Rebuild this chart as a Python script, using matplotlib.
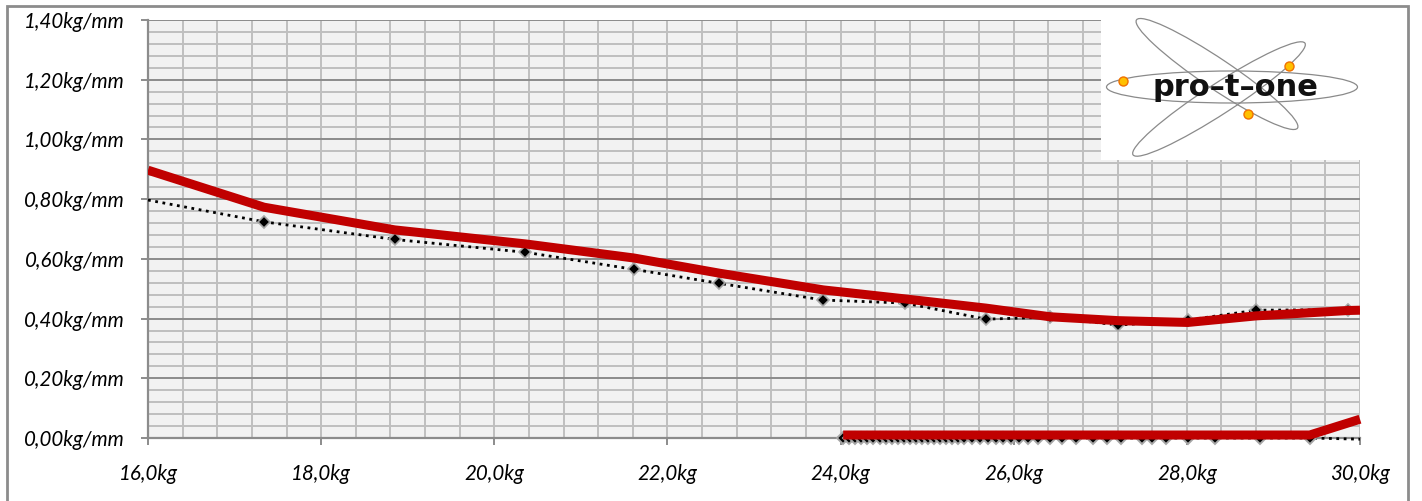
import numpy as np
import matplotlib.pyplot as plt
from matplotlib.patches import Ellipse, Rectangle

# ---- data ----
# measured points (black diamonds, dotted line)
meas_x = [16.0, 17.34, 18.85, 20.36, 21.61, 22.60, 23.80, 24.74, 25.68,
          26.42, 27.21, 28.01, 28.80, 29.86, 30.0]
meas_y = [0.797, 0.724, 0.665, 0.622, 0.565, 0.518, 0.462, 0.452, 0.398,
          0.405, 0.378, 0.395, 0.428, 0.430, 0.428]

# smoothed curve (thick red)
fit_x = [16.0, 17.34, 18.85, 20.36, 21.61, 22.60, 23.80, 24.74, 25.68,
         26.42, 27.21, 28.01, 28.80, 29.86, 30.0]
fit_y = [0.897, 0.773, 0.697, 0.650, 0.603, 0.552, 0.496, 0.466, 0.435,
         0.406, 0.393, 0.387, 0.409, 0.427, 0.428]

# second run near zero
low_x = [24.03, 24.10, 24.17, 24.24, 24.31, 24.38, 24.45, 24.52, 24.59,
         24.66, 24.73, 24.80, 24.87, 24.94, 25.01, 25.08, 25.15, 25.22,
         25.29, 25.36, 25.43, 25.52, 25.61, 25.70, 25.80, 25.88, 25.97,
         26.06, 26.16, 26.28, 26.42, 26.56, 26.72, 26.92, 27.08, 27.24,
         27.48, 27.60, 27.76, 28.01, 28.33, 28.85, 29.42, 30.0]
low_y = [0.0] * 43 + [-0.004]

low_fit_x = [24.03, 29.42, 30.0]
low_fit_y = [0.01, 0.01, 0.063]

y_ticks = [0.0, 0.2, 0.4, 0.6, 0.8, 1.0, 1.2, 1.4]
y_labels = ['0,00kg/mm', '0,20kg/mm', '0,40kg/mm', '0,60kg/mm',
            '0,80kg/mm', '1,00kg/mm', '1,20kg/mm', '1,40kg/mm']
x_ticks = [16, 18, 20, 22, 24, 26, 28, 30]
x_labels = ['16,0kg', '18,0kg', '20,0kg', '22,0kg', '24,0kg', '26,0kg',
            '28,0kg', '30,0kg']

plt.rcParams['font.family'] = ['Lato', 'DejaVu Sans']

fig = plt.figure(figsize=(14.22, 5.01), dpi=100)
W, H = 1422, 501
ax = fig.add_axes([148 / W, 1 - 438 / H, (1360 - 148) / W, (438 - 20) / H])
ax.set_facecolor('#f2f2f2')

ax.set_xlim(16, 30)
ax.set_ylim(0, 1.4)

# grid
ax.set_xticks(np.arange(16, 30.01, 0.4), minor=True)
ax.set_yticks(np.arange(0, 1.401, 0.04), minor=True)
ax.grid(which='minor', color='#bfbfbf', lw=1.4)
ax.grid(which='major', axis='x', color='#bfbfbf', lw=1.4)
ax.grid(which='major', axis='y', color='#8c8c8c', lw=1.4)
ax.set_axisbelow(True)
ax.tick_params(which='minor', length=0)

ax.set_xticks(x_ticks)
ax.set_yticks(y_ticks)
ax.set_xticklabels(x_labels)
ax.set_yticklabels(y_labels)
for t in ax.get_xticklabels() + ax.get_yticklabels():
    t.set_fontstyle('italic')
    t.set_fontsize(14.8)
ax.tick_params(axis='y', which='major', length=5, width=1.4,
               color='#8c8c8c', pad=12)
ax.tick_params(axis='x', which='major', length=5, width=1.4,
               color='#8c8c8c', pad=14)
for s in ['top', 'right']:
    ax.spines[s].set_visible(False)
for s in ['left', 'bottom']:
    ax.spines[s].set_color('#8c8c8c')
    ax.spines[s].set_linewidth(1.6)

# series
ax.plot(meas_x, meas_y, color='black', lw=2.0, ls=':', zorder=3)
ax.plot(meas_x, meas_y, ls='none', marker='D', ms=6, mfc='black',
        mec='#a6a6a6', mew=1.2, markevery=list(range(1, 14)), zorder=4)
ax.plot(low_x, low_y, color='black', lw=2.0, ls=':', zorder=3,
        clip_on=False)
ax.plot(low_x[:-1], low_y[:-1], ls='none', marker='D', ms=6.5, mfc='black',
        mec='#a6a6a6', mew=1.4, zorder=4, clip_on=False)
ax.plot(fit_x, fit_y, color='#c00000', lw=6.5, zorder=5,
        solid_capstyle='butt')
ax.plot(low_fit_x, low_fit_y, color='#c00000', lw=6.5, zorder=5,
        solid_capstyle='butt', clip_on=False)

# logo box
lg = fig.add_axes([1101 / W, 1 - 160 / H, (1362 - 1101) / W, (160 - 17) / H])
lg.set_xlim(1101, 1362)
lg.set_ylim(160, 17)
lg.set_facecolor('white')
for s in lg.spines.values():
    s.set_visible(False)
lg.set_xticks([])
lg.set_yticks([])
lg.add_patch(Ellipse((1232, 87), 251, 32, angle=0, fill=False,
                     ec='#8a8a8a', lw=0.9))
lg.add_patch(Ellipse((1217, 74), 194, 30, angle=33.9, fill=False,
                     ec='#8a8a8a', lw=0.9))
lg.add_patch(Ellipse((1219, 99), 205, 30, angle=-33.0, fill=False,
                     ec='#8a8a8a', lw=0.9))
lg.text(1235, 88, 'pro–t–one', ha='center', va='center', fontsize=22,
        fontweight='bold', family='DejaVu Sans', color='#111111')
for cx, cy in [(1123, 81), (1289, 66), (1248, 114)]:
    lg.plot(cx, cy, 'o', ms=6.5, mfc='#ffc000', mec='#f07000', mew=1)

# outer frame
fig.add_artist(Rectangle((7 / W, -0.01), (1408 - 7) / W, 1.01 - 6 / H,
                         transform=fig.transFigure, fill=False,
                         ec='#8c8c8c', lw=2))

fig.savefig('out.png', dpi=100)
